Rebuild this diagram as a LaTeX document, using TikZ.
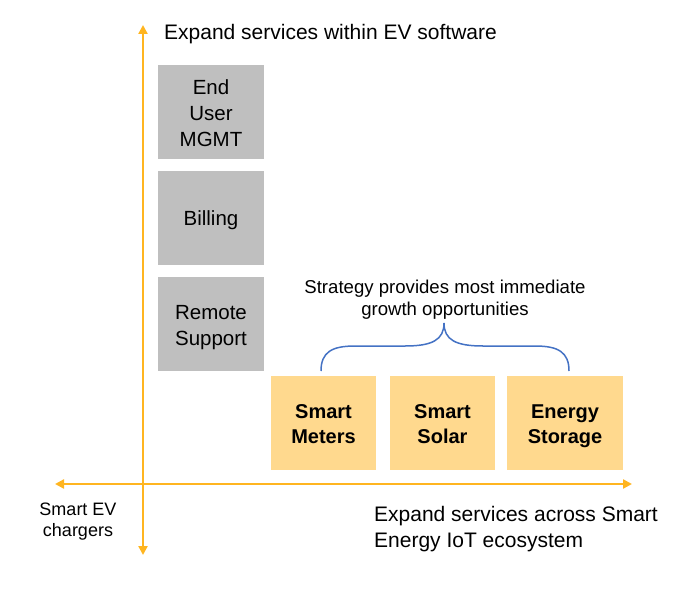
\documentclass[tikz,border=0pt]{standalone}
\usepackage{fontspec}
\setmainfont{Liberation Sans}
\usetikzlibrary{arrows.meta}
\definecolor{axisc}{HTML}{FFB520}
\definecolor{grayc}{HTML}{BFBFBF}
\definecolor{yelc}{HTML}{FFD98E}
\definecolor{bracec}{HTML}{4472C4}
\tikzset{
  axis/.style={draw=axisc, line width=2.6pt, {Triangle[width=9pt,length=9pt]}-{Triangle[width=9pt,length=9pt]}},
  graybox/.style={fill=grayc, draw=none, minimum width=106pt, minimum height=94pt, inner sep=0pt},
  yelbox/.style={fill=yelc, draw=none, minimum height=94pt, inner sep=0pt},
  graytext/.style={inner sep=0pt, align=center, yshift=-3pt, font=\fontsize{20.5}{26}\selectfont},
  yeltext/.style={inner sep=0pt, align=center, yshift=-3pt, font=\fontsize{20}{24.5}\selectfont\bfseries},
}
\begin{document}
\begin{tikzpicture}[x=1pt,y=-1pt]
\useasboundingbox (0,0) rectangle (700,588);
% axes
\coordinate (ytop) at (143,25);
\coordinate (ybot) at (143,555);
\coordinate (xleft) at (55,484);
\coordinate (xright) at (632,484);
\draw[axis] (ybot) -- (ytop);
\draw[axis] (xleft) -- (xright);
% gray boxes
\node[graybox] (eum) at (211,112) {};
\node[graybox] (bill) at (211,217.5) {};
\node[graybox] (rs) at (211,324) {};
\node[graytext] (eumt) at (eum.center) {\strut End\\User\\MGMT\strut};
\node[graytext] (billt) at (bill.center) {\strut Billing\strut};
\node[graytext] (rst) at (rs.center) {\strut Remote\\Support\strut};
% yellow boxes
\node[yelbox, minimum width=105pt] (sm) at (323.5,423) {};
\node[yelbox, minimum width=105pt] (ss) at (442.5,423) {};
\node[yelbox, minimum width=116pt] (es) at (565,423) {};
\node[yeltext] (smt) at (sm.center) {\strut Smart\\Meters\strut};
\node[yeltext] (sst) at (ss.center) {\strut Smart\\Solar\strut};
\node[yeltext] (est) at (es.center) {\strut Energy\\Storage\strut};
% brace
\draw[bracec, line width=1.5pt] (321,371) .. controls (321,352) and (332,346) .. (355,346)
  -- (405,346) .. controls (432,346) and (444,340) .. (444,323)
  .. controls (444,340) and (456,346) .. (483,346)
  -- (535,346) .. controls (558,346) and (569,352) .. (569,371);
% labels
\node[inner sep=0pt, anchor=west, font=\fontsize{21}{26}\selectfont] (ytitle) at (164,34) {Expand services within EV software};
\node[inner sep=0pt, align=center, font=\fontsize{18.6}{22}\selectfont] (strat) at (445,299.5) {Strategy provides most immediate\\growth opportunities};
\node[inner sep=0pt, align=left, anchor=west, font=\fontsize{21}{26}\selectfont] (xtitle) at (374,529.5) {Expand services across Smart\\Energy IoT ecosystem};
\node[inner sep=0pt, align=center, font=\fontsize{18}{20.5}\selectfont] (ev) at (78,521.5) {Smart EV\\chargers};
\end{tikzpicture}
\end{document}
